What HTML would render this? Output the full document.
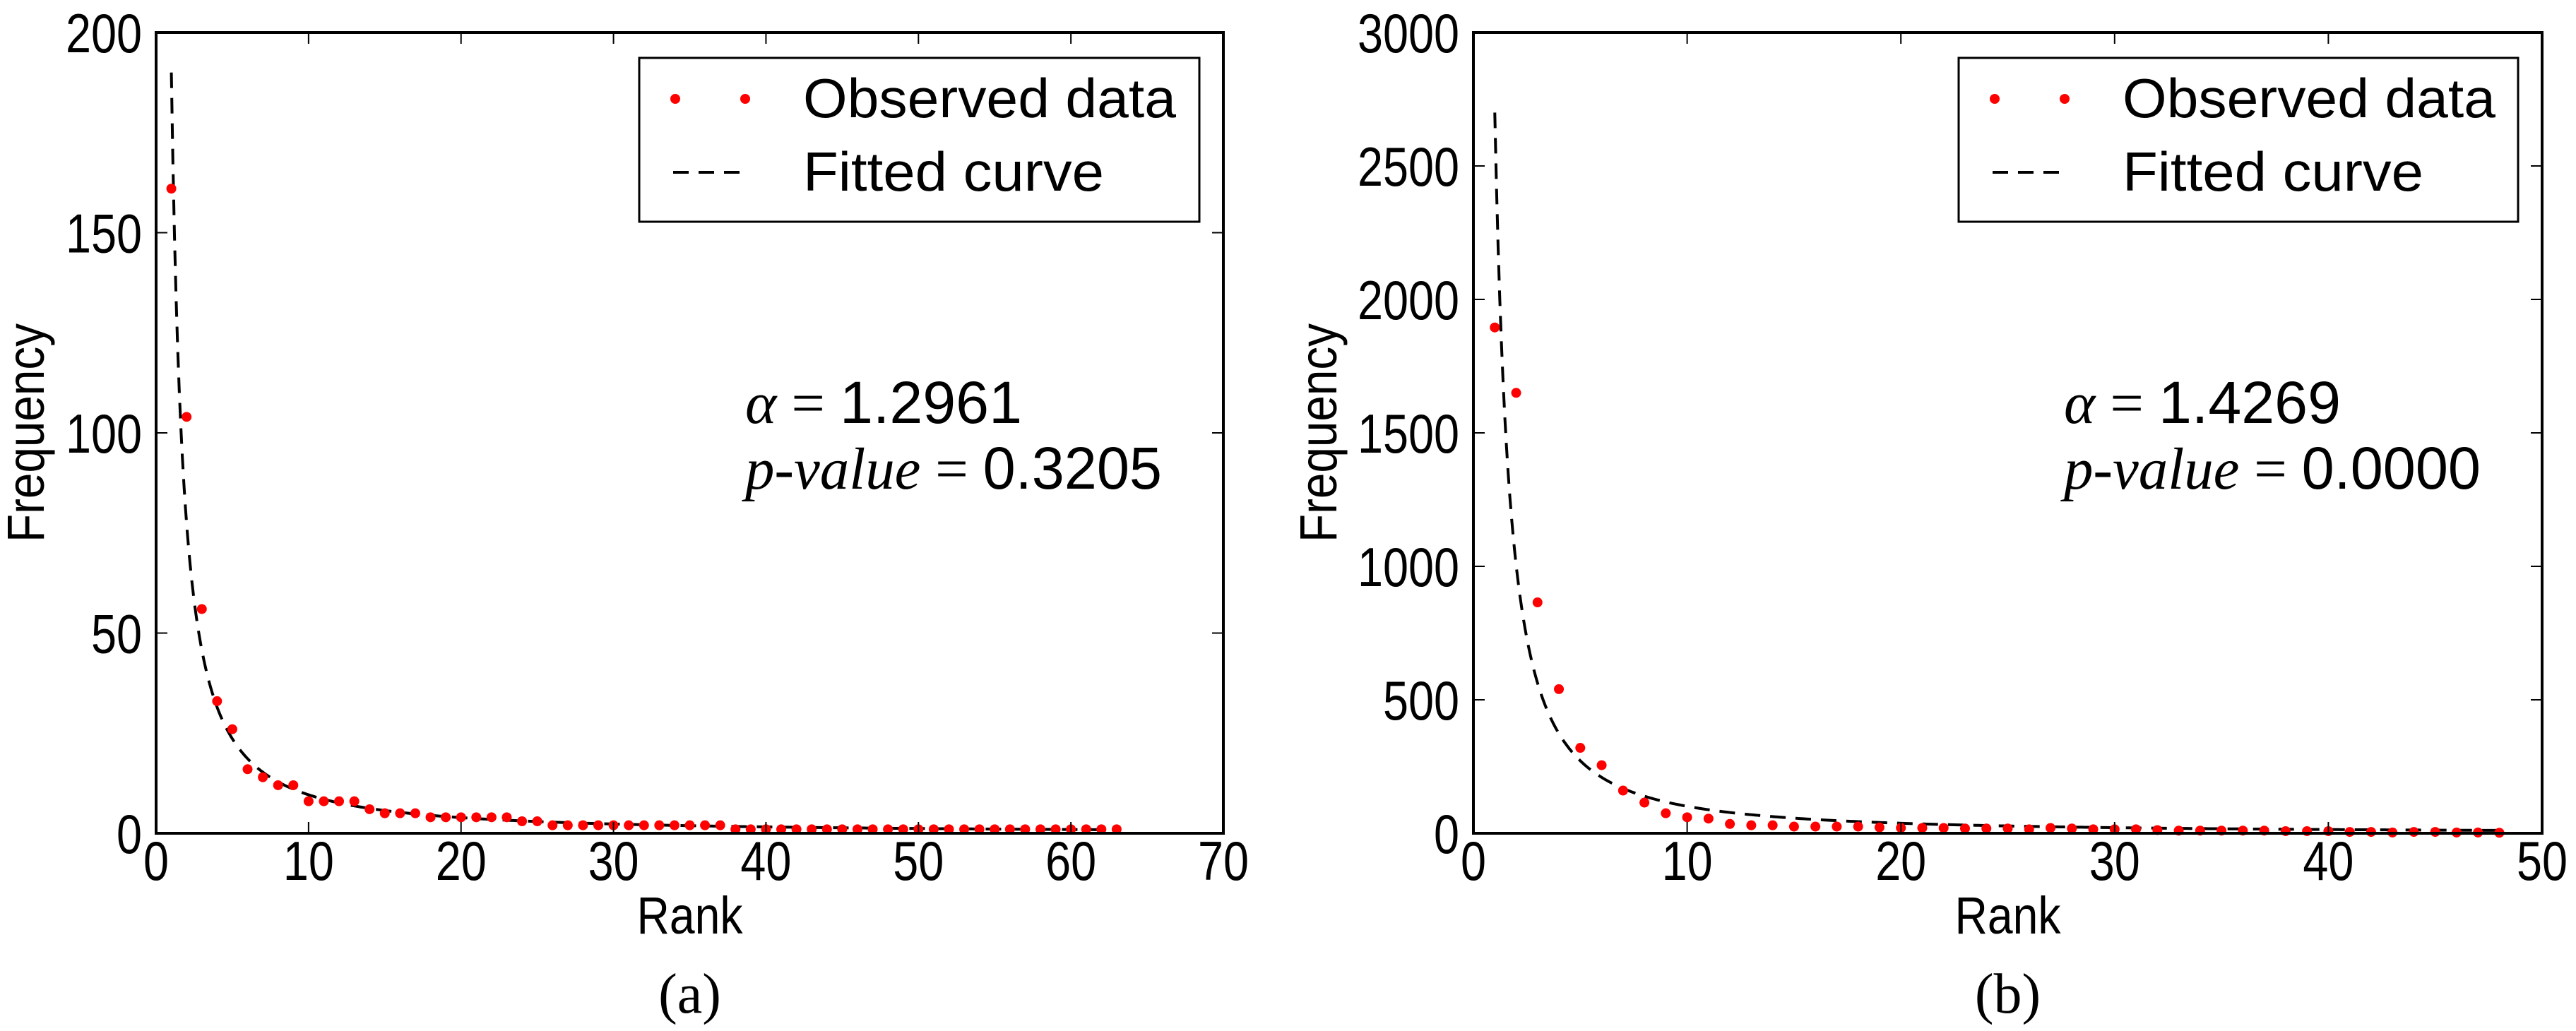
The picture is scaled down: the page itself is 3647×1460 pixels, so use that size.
<!DOCTYPE html>
<html><head><meta charset="utf-8"><style>
html,body{margin:0;padding:0;background:#fff;}
svg{display:block;font-family:"Liberation Sans","DejaVu Sans",sans-serif;}
</style></head><body>
<svg id="fig" width="3647" height="1460" viewBox="0 0 3647 1460" xmlns="http://www.w3.org/2000/svg"></svg>
<script>
// Panel (a) data
const ranksA = Array.from({length:63},(_, i)=>i+1);
const freqA = [161,104,56,33,26,16,14,12,12,8,8,8,8,6,5,5,5,4,4,4,4,4,4,3,3,2,2,2,2,2,2,2,2,2,2,2,2,1,1,1,1,1,1,1,1,1,1,1,1,1,1,1,1,1,1,1,1,1,1,1,1,1,1];
const fitA = [190, 1.2961];
const yTicksA = [0,50,100,150,200];
const xTicksA = [0,10,20,30,40,50,60,70];
// Panel (b) data
const ranksB = Array.from({length:48},(_, i)=>i+1);
const freqB = [1895,1650,865,540,320,255,160,115,75,60,55,35,30,30,25,25,25,25,22,20,20,20,18,18,18,15,20,18,15,15,15,12,10,10,10,10,10,8,8,8,5,5,3,5,5,3,3,2];
const fitB = [2700, 1.4269];
const yTicksB = [0,500,1000,1500,2000,2500,3000];
const xTicksB = [0,10,20,30,40,50];

const NS="http://www.w3.org/2000/svg";
const svg=document.getElementById('fig');
function mk(tag,attrs,parent,text){const e=document.createElementNS(NS,tag);for(const k in attrs)e.setAttribute(k,attrs[k]);if(text!==undefined)e.textContent=text;(parent||svg).appendChild(e);return e;}

function panel(o){
  const g=mk('g',{});
  
  
  const L=o.L,R=o.R,T=46,B=1180;
  const xs=v=>L+(v-o.xmin)/(o.xmax-o.xmin)*(R-L);
  const ys=v=>B-(v-o.ymin)/(o.ymax-o.ymin)*(B-T);
  let d='';
  for(let i=0;i<=600;i++){const x=1+(o.ranks.length-1)*i/600;const y=o.fit[0]*Math.pow(x,-o.fit[1]);d+=(i?'L':'M')+xs(x).toFixed(2)+' '+ys(y).toFixed(2);}
  const fl=mk('path',{d:d,fill:'none',stroke:'#000','stroke-width':4,'stroke-dasharray':'22 14'},g);
  
  
  o.ranks.forEach((r,i)=>{
    const c=mk('circle',{cx:xs(r),cy:ys(o.freq[i]),r:7,fill:'#ff0000'},g);
    
    
  });
  const fr=mk('rect',{x:L,y:T,width:R-L,height:B-T,fill:'none',stroke:'#000','stroke-width':4},g);
  
  
  o.xt.forEach(v=>{
    const x=xs(v);
    mk('line',{x1:x,y1:B,x2:x,y2:B-16,stroke:'#000','stroke-width':2},g);
    mk('line',{x1:x,y1:T,x2:x,y2:T+16,stroke:'#000','stroke-width':2},g);
    const s=String(v);
    const t=mk('text',{x:x,y:1246,'font-size':78,'text-anchor':'middle',textLength:s.length*36,lengthAdjust:'spacingAndGlyphs'},g,s);
    
    
  });
  o.yt.forEach(v=>{
    const y=ys(v);
    mk('line',{x1:L,y1:y,x2:L+16,y2:y,stroke:'#000','stroke-width':2},g);
    mk('line',{x1:R,y1:y,x2:R-16,y2:y,stroke:'#000','stroke-width':2},g);
    const s=String(v);
    const t=mk('text',{x:L-20-s.length*36,y:y+28,'font-size':78,textLength:s.length*36,lengthAdjust:'spacingAndGlyphs'},g,s);
    
    
  });
  const xl=mk('text',{x:(L+R)/2-75,y:1322,'font-size':74,textLength:150,lengthAdjust:'spacingAndGlyphs'},g,'Rank');
  
  
  const yl=mk('text',{x:-155,y:0,'font-size':74,textLength:310,lengthAdjust:'spacingAndGlyphs',transform:`translate(${o.ylx},613) rotate(-90)`},g,'Frequency');
  
  
  const lg=mk('g',{},g);
  
  
  mk('rect',{x:o.lx,y:82,width:o.lw,height:232,fill:'#fff',stroke:'#000','stroke-width':3},lg);
  mk('circle',{cx:o.lx+51,cy:140,r:7,fill:'#ff0000'},lg);
  mk('circle',{cx:o.lx+150,cy:140,r:7,fill:'#ff0000'},lg);
  mk('line',{x1:o.lx+48,y1:244,x2:o.lx+155,y2:244,stroke:'#000','stroke-width':4,'stroke-dasharray':'22 14'},lg);
  const l1=mk('text',{x:o.lx+232,y:166,'font-size':78,textLength:528,lengthAdjust:'spacingAndGlyphs'},lg,'Observed data');
  
  
  const l2=mk('text',{x:o.lx+232,y:270,'font-size':78,textLength:426,lengthAdjust:'spacingAndGlyphs'},lg,'Fitted curve');
  
  
  const a1=mk('text',{x:o.ax,y:599,'font-size':84,textLength:o.a1w,lengthAdjust:'spacingAndGlyphs'},g);
  
  
  mk('tspan',{'font-family':'"Liberation Serif",serif','font-style':'italic'},a1,'α');
  mk('tspan',{'font-family':'"Liberation Serif",serif'},a1,' = ');
  mk('tspan',{},a1,o.alpha);
  const a2=mk('text',{x:o.ax,y:692,'font-size':84,textLength:o.a2w,lengthAdjust:'spacingAndGlyphs'},g);
  
  
  mk('tspan',{'font-family':'"Liberation Serif",serif','font-style':'italic'},a2,'p-value');
  mk('tspan',{'font-family':'"Liberation Serif",serif'},a2,' = ');
  mk('tspan',{},a2,o.p);
  const cap=mk('text',{x:(L+R)/2,y:1434,'font-size':80,'text-anchor':'middle','font-family':'"Liberation Serif",serif'},g,o.cap);
  
  
}
panel({name:'panel-a',L:221,R:1732,xmin:0,xmax:70,ymin:0,ymax:200,ranks:ranksA,freq:freqA,fit:fitA,xt:xTicksA,yt:yTicksA,ylx:62,lx:905,lw:793,ax:1055,a1w:392,a2w:590,alpha:'1.2961',p:'0.3205',cap:'(a)'});
panel({name:'panel-b',L:2086,R:3599,xmin:0,xmax:50,ymin:0,ymax:3000,ranks:ranksB,freq:freqB,fit:fitB,xt:xTicksB,yt:yTicksB,ylx:1892,lx:2773,lw:792,ax:2922,a1w:392,a2w:590,alpha:'1.4269',p:'0.0000',cap:'(b)'});
</script>
</body></html>
